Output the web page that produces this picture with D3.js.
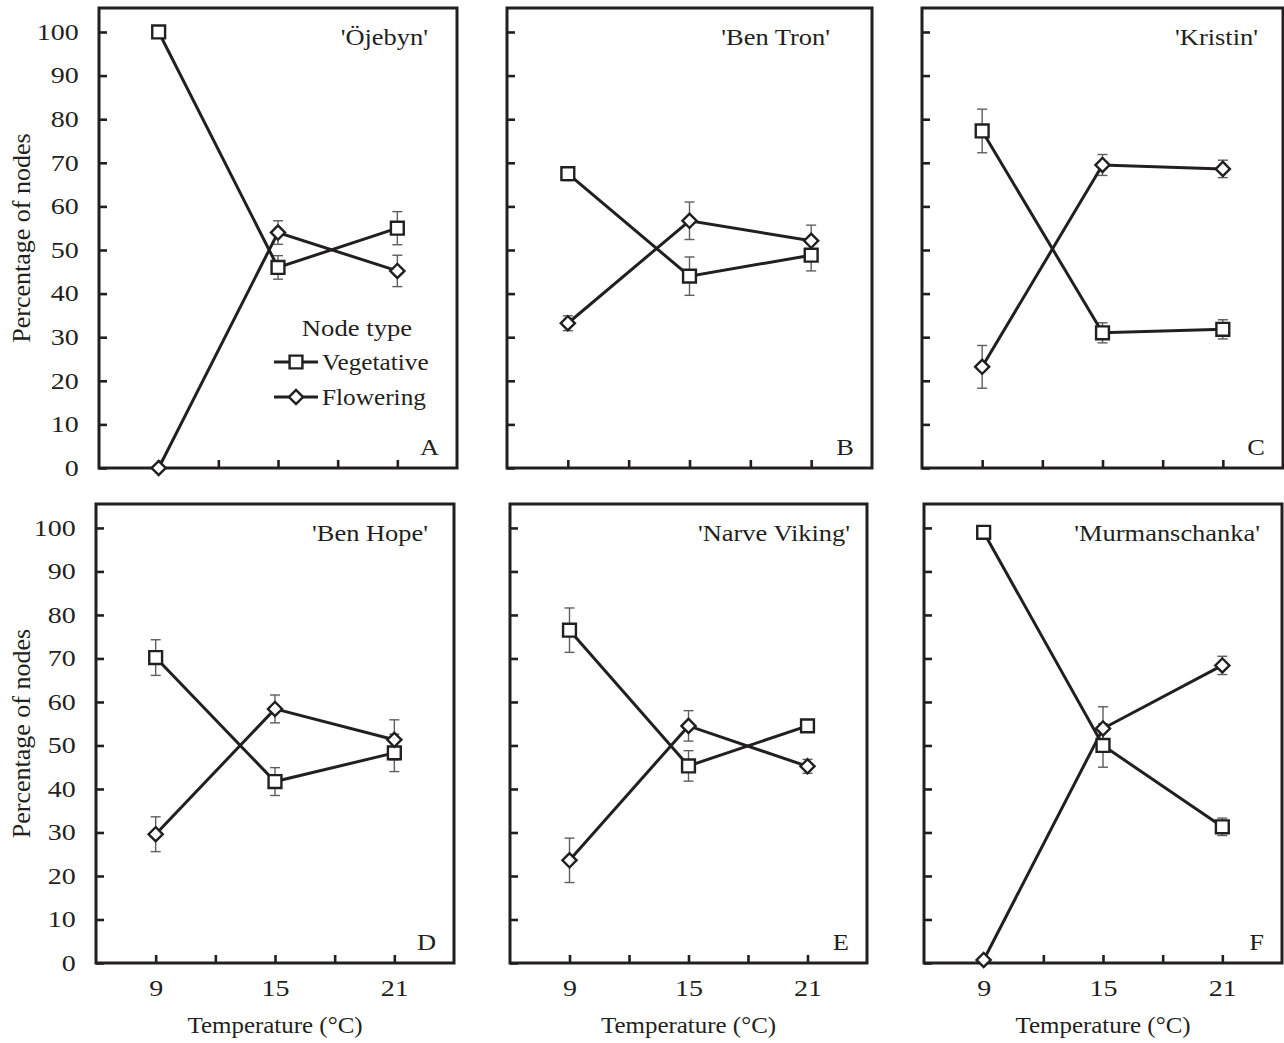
<!DOCTYPE html>
<html>
<head>
<meta charset="utf-8">
<script src="https://cdn.jsdelivr.net/npm/d3@7"></script>
<style>
  body { margin: 0; background: #fff; }
  text { font-family: "Liberation Serif", "Times New Roman", serif; fill: #231f20; }
</style>
</head>
<body>
<svg id="chart" width="1284" height="1043"></svg>
<script>
// data
var temps = [9, 15, 21];
var cultivars = ["'Öjebyn'", "'Ben Tron'", "'Kristin'", "'Ben Hope'", "'Narve Viking'", "'Murmanschanka'"];
var panelLetters = ["A", "B", "C", "D", "E", "F"];
var vegMean = [[100, 46, 55], [67.5, 44, 48.8], [77.3, 31, 31.8], [70.2, 41.7, 48.3], [76.5, 45.3, 54.5], [99, 50, 31.3]];
var vegErr  = [[0, 2.7, 3.8], [1.6, 4.4, 3.6], [5, 2.3, 2.2], [4.1, 3.2, 4.3], [5.1, 3.5, 1.2], [0, 5, 2]];
var flwMean = [[0, 54, 45.2], [33.2, 56.7, 52.1], [23.2, 69.5, 68.6], [29.6, 58.4, 51.3], [23.6, 54.5, 45.2], [0.7, 53.9, 68.4]];
var flwErr  = [[0, 2.7, 3.6], [1.7, 4.3, 3.6], [4.9, 2.4, 2.0], [4, 3.2, 4.6], [5.1, 3.5, 1.6], [0, 5, 2.1]];
var yTicks = [0, 10, 20, 30, 40, 50, 60, 70, 80, 90, 100];
var xTicks = [9, 12, 15, 18, 21];
var xLabels = [9, 15, 21];
var seriesNames = ["Vegetative", "Flowering"];

// panel boxes (pixels)
var panels = [
  {left: 99,  right: 457,  top: 8,   bottom: 468, titleOff: 29},
  {left: 507, right: 872,  top: 8,   bottom: 468, titleOff: 42},
  {left: 922, right: 1283, top: 8,   bottom: 468, titleOff: 25},
  {left: 96,  right: 454,  top: 504, bottom: 963, titleOff: 26},
  {left: 510, right: 867,  top: 504, bottom: 963, titleOff: 17},
  {left: 924, right: 1282, top: 504, bottom: 963, titleOff: 22}
];

var ink = "#231f20";
var svg = d3.select("#chart");

var squareSym = d3.symbol().type(d3.symbolSquare).size(165);
var diamondSym = d3.symbol().type(d3.symbolSquare).size(100);

function drawMarker(g, type, cx, cy) {
  var p = g.append("path")
      .attr("fill", "#fff")
      .attr("stroke", ink)
      .attr("stroke-width", 2.4);
  if (type === 0) {
    p.attr("d", squareSym()).attr("transform", "translate(" + cx + "," + cy + ")");
  } else {
    p.attr("d", diamondSym()).attr("transform", "translate(" + cx + "," + cy + ") rotate(45)");
  }
}

// text that is a little wider than the font, like the printed figure
function wideText(parent, x, y, str, size, sx, anchor) {
  return parent.append("text")
      .attr("transform", "translate(" + x + "," + y + ") scale(" + sx + ",1)")
      .attr("text-anchor", anchor || "start")
      .style("font-size", size + "px")
      .text(str);
}

panels.forEach(function(pn, i) {
  var w = pn.right - pn.left, h = pn.bottom - pn.top;
  var x = d3.scaleLinear().domain([6, 24]).range([0, w]);
  var y = d3.scaleLinear().domain([0, 105.5]).range([h, 0]);
  var isLeft = (i % 3 === 0), isBottom = (i >= 3);

  var g = svg.append("g")
      .attr("transform", "translate(" + pn.left + "," + pn.top + ")");

  // y axis, ticks pointing in
  var yAxis = g.append("g")
      .call(d3.axisLeft(y).tickValues(yTicks).tickSize(-8).tickPadding(16.5)
        .tickFormat(function(d) { return isLeft ? d : ""; }));
  yAxis.select(".domain").remove();
  yAxis.selectAll(".tick line").attr("stroke", ink).attr("stroke-width", 2.6);
  yAxis.selectAll(".tick text").style("font-size", "23px").attr("font-family", null)
      .attr("transform", "scale(1.22,1)");

  // x axis
  var xAxis = g.append("g")
      .attr("transform", "translate(0," + h + ")")
      .call(d3.axisBottom(x).tickValues(xTicks).tickSize(-8).tickPadding(17)
        .tickFormat(function(d) { return isBottom && xLabels.indexOf(d) >= 0 ? d : ""; }));
  xAxis.select(".domain").remove();
  xAxis.selectAll(".tick line").attr("stroke", ink).attr("stroke-width", 2.6);
  xAxis.selectAll(".tick text").style("font-size", "23px").attr("font-family", null)
      .attr("transform", "scale(1.22,1)");

  // frame
  g.append("rect")
      .attr("width", w).attr("height", h)
      .attr("fill", "none").attr("stroke", ink).attr("stroke-width", 3);

  var sets = [
    {mean: vegMean[i], err: vegErr[i], type: 0},
    {mean: flwMean[i], err: flwErr[i], type: 1}
  ];

  // error bars
  sets.forEach(function(s) {
    temps.forEach(function(t, j) {
      if (!s.err[j]) return;
      var cx = x(t), y1 = y(s.mean[j] + s.err[j]), y2 = y(s.mean[j] - s.err[j]);
      var eb = g.append("g").attr("stroke", "#5e5e5e").attr("stroke-width", 1.4);
      eb.append("line").attr("x1", cx).attr("x2", cx).attr("y1", y1).attr("y2", y2);
      eb.append("line").attr("x1", cx - 5).attr("x2", cx + 5).attr("y1", y1).attr("y2", y1);
      eb.append("line").attr("x1", cx - 5).attr("x2", cx + 5).attr("y1", y2).attr("y2", y2);
    });
  });

  // lines
  var line = d3.line()
      .x(function(d, j) { return x(temps[j]); })
      .y(function(d) { return y(d); });
  sets.forEach(function(s) {
    g.append("path")
        .datum(s.mean)
        .attr("fill", "none")
        .attr("stroke", ink)
        .attr("stroke-width", 3)
        .attr("d", line);
  });

  // markers
  sets.forEach(function(s) {
    s.mean.forEach(function(v, j) { drawMarker(g, s.type, x(temps[j]), y(v)); });
  });

  // cultivar name and panel letter
  wideText(g, w - pn.titleOff, 37, cultivars[i], 23, 1.15, "end");
  wideText(g, w - 18, h - 13, panelLetters[i], 23, 1.15, "end");

  if (isLeft) {
    svg.append("text")
        .attr("transform", "translate(30," + (pn.top + h / 2) + ") rotate(-90)")
        .attr("text-anchor", "middle")
        .style("font-size", "26px")
        .text("Percentage of nodes");
  }
  if (isBottom) {
    wideText(svg, pn.left + w / 2, 1033, "Temperature (\u00B0C)", 24, 1.04, "middle");
  }
});

// legend in panel A
var lg = svg.append("g");
wideText(lg, 357, 336, "Node type", 23, 1.16, "middle");
seriesNames.forEach(function(name, k) {
  var ly = 362 + k * 35;
  lg.append("line")
      .attr("x1", 274).attr("x2", 318).attr("y1", ly).attr("y2", ly)
      .attr("stroke", ink).attr("stroke-width", 3);
  drawMarker(lg, k, 296, ly);
  wideText(lg, 322, ly + 8, name, 23, 1.1, "start");
});
</script>
</body>
</html>
